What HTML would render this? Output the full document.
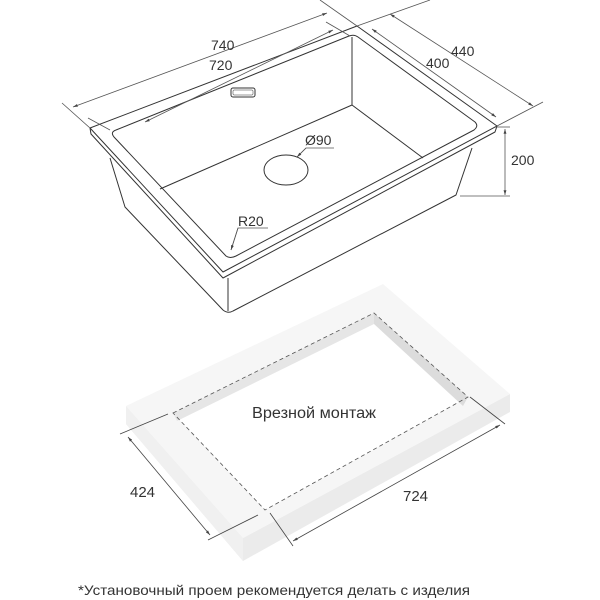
<!DOCTYPE html><html><head><style>body{margin:0;background:#fff}svg{display:block}text{font-family:"Liberation Sans",sans-serif;fill:#333}</style></head><body>
<svg width="600" height="600" viewBox="0 0 600 600" xmlns="http://www.w3.org/2000/svg">
<defs><marker id="a" viewBox="0 0 10 10" refX="10" refY="5" markerWidth="6" markerHeight="6" orient="auto-start-reverse"><path d="M0,2L10,5L0,8z" fill="#444"/></marker></defs>
<g fill="none" stroke="#333" stroke-width="1" stroke-linejoin="round">
<path d="M90,128 L357,26 L497,126 L223,272 Z"/>
<path d="M90,128 L91,134 L223,278 L495,132 L497,126"/>
<path d="M116,130 Q110,132 114,137 L226,256 Q230,259 236,256 L474,130 Q479,126 475,122 L358,37 Q354,34 349,36 Z"/>
<path d="M352,37 L352,105 L160,189"/><path d="M352,105 L423,158"/>
<path d="M110,158 L125,207 L223,310 Q228,314 233,311 L456,195 L472,148"/>
<path d="M228,278 L228,311"/>
<ellipse cx="286" cy="170" rx="22" ry="15"/>
<rect x="231" y="88" width="24" height="9" rx="2"/><rect x="233" y="90" width="20" height="5" rx="1" stroke-width="0.5"/>
</g>
<g fill="none" stroke="#555" stroke-width="0.8">
<line x1="73" y1="107" x2="327" y2="13" marker-start="url(#a)" marker-end="url(#a)"/>
<line x1="62" y1="103" x2="90" y2="128"/><line x1="320" y1="0" x2="357" y2="26"/>
<line x1="145" y1="122" x2="333" y2="30" marker-start="url(#a)" marker-end="url(#a)"/>
<line x1="88" y1="118" x2="110" y2="130"/><line x1="326" y1="22" x2="350" y2="36"/>
<line x1="390" y1="14" x2="533" y2="106" marker-start="url(#a)" marker-end="url(#a)"/>
<line x1="357" y1="26" x2="430" y2="0"/><line x1="497" y1="126" x2="543" y2="102"/>
<line x1="372" y1="29" x2="496" y2="117" marker-start="url(#a)" marker-end="url(#a)"/>
<line x1="505" y1="129" x2="505" y2="195" marker-start="url(#a)" marker-end="url(#a)"/>
<line x1="460" y1="196" x2="510" y2="196"/><line x1="495" y1="127" x2="510" y2="127"/>
<polyline points="334,148 306,148 297,157"/>
<line x1="306" y1="148" x2="297" y2="157" marker-end="url(#a)"/>
<polyline points="268,228 238,228 231,250" /><line x1="238" y1="228" x2="231" y2="250" marker-end="url(#a)"/>
</g>
<text x="211" y="50" font-size="14">740</text>
<text x="209" y="70" font-size="14">720</text>
<text x="451" y="56" font-size="14">440</text>
<text x="426" y="68" font-size="14">400</text>
<text x="511" y="165" font-size="14">200</text>
<text x="305" y="145" font-size="14">Ø90</text>
<text x="238" y="226" font-size="14">R20</text>
<polygon points="126,406 126,424 243,561 510,412 510,394 243,538" fill="#ebebeb"/>
<polygon points="126,406 126,424 243,561 243,538" fill="#f0f0f0"/>
<polygon points="126,406 383,284 510,394 243,538" fill="#f6f6f6"/>
<polygon points="173,413 374,313 468,397 265,510" fill="#fff"/>
<polygon points="173,413 374,313 374,324 177,421" fill="#e6e6e6"/>
<polygon points="374,313 468,397 463,406 374,324" fill="#dcdcdc"/>
<polygon points="173,413 374,313 468,397 265,510" fill="none" stroke="#555" stroke-width="0.8" stroke-dasharray="4,3"/>
<g stroke="#444" stroke-width="0.8" fill="none">
<line x1="128" y1="437" x2="210" y2="535" marker-start="url(#a)" marker-end="url(#a)"/>
<line x1="120" y1="434" x2="168" y2="414"/><line x1="208" y1="540" x2="258" y2="515"/>
<line x1="293" y1="541" x2="500" y2="425" marker-start="url(#a)" marker-end="url(#a)"/>
<line x1="270" y1="513" x2="293" y2="546"/><line x1="470" y1="397" x2="505" y2="424"/>
</g>
<text x="314" y="418" font-size="15.5" text-anchor="middle" textLength="124" lengthAdjust="spacingAndGlyphs">Врезной монтаж</text>
<text x="130" y="497" font-size="15">424</text>
<text x="403" y="501" font-size="15">724</text>
<text x="78" y="595" font-size="14" textLength="392" lengthAdjust="spacingAndGlyphs">*Установочный проем рекомендуется делать с изделия</text>
</svg></body></html>
